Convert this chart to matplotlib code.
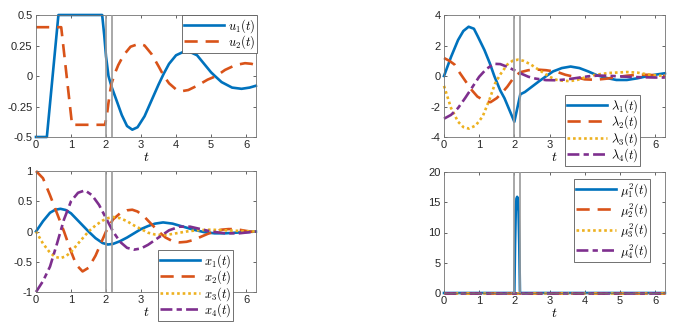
import numpy as np
import matplotlib
matplotlib.use("Agg")
import matplotlib.pyplot as plt

plt.rcParams['font.family'] = ['Liberation Sans', 'DejaVu Sans']
plt.rcParams['mathtext.fontset'] = 'cm'
plt.rcParams['axes.unicode_minus'] = False

# ---- data ----
# switching instants (grey vertical lines)
t_switch = [2.0, 2.16]

# controls u(t)
t_u1 = [0, 0.31, 0.64, 1.89, 1.95, 2.0, 2.07, 2.16, 2.3, 2.45, 2.6, 2.75, 2.9, 3.1, 3.3, 3.5,
        3.65, 3.8, 4.0, 4.3, 4.6, 4.8, 5.0, 5.11, 5.3, 5.6, 5.87, 6.1, 6.28]
u1 = [-0.5, -0.5, 0.5, 0.5, 0.33, 0.16, 0.0, -0.09, -0.2, -0.32, -0.41, -0.44, -0.42, -0.33, -0.2, -0.07,
      0.02, 0.1, 0.17, 0.21, 0.17, 0.1, 0.03, 0.0, -0.05, -0.095, -0.105, -0.095, -0.08]
t_u2 = [0, 0.72, 1.03, 1.97, 2.02, 2.07, 2.12, 2.16, 2.25, 2.35, 2.5, 2.7, 2.95, 3.1, 3.3, 3.5, 3.65,
        3.8, 4.0, 4.15, 4.35, 4.6, 4.9, 5.15, 5.4, 5.7, 5.97, 6.15, 6.28]
u2 = [0.4, 0.4, -0.4, -0.4, -0.33, -0.22, -0.12, -0.06, 0.02, 0.09, 0.17, 0.24, 0.265, 0.25, 0.18, 0.08, 0.0,
      -0.06, -0.11, -0.125, -0.115, -0.08, -0.03, 0.0, 0.05, 0.09, 0.105, 0.1, 0.09]

# states x(t)
t_x1 = [0, 0.2, 0.4, 0.55, 0.7, 0.85, 1.0, 1.2, 1.5, 1.7, 1.9, 2.05, 2.2, 2.4, 2.6, 2.8, 3.0, 3.2,
        3.4, 3.63, 3.9, 4.2, 4.5, 4.8, 5.1, 5.4, 5.7, 6.0, 6.28]
x1 = [0, 0.17, 0.31, 0.36, 0.375, 0.355, 0.3, 0.18, 0.0, -0.11, -0.19, -0.215, -0.205, -0.16, -0.1, -0.03, 0.04, 0.09,
      0.13, 0.15, 0.13, 0.08, 0.03, -0.01, -0.03, -0.03, -0.02, -0.01, 0.0]
t_x2 = [0, 0.2, 0.4, 0.6, 0.8, 1.0, 1.15, 1.33, 1.5, 1.7, 1.85, 2.0, 2.2, 2.4, 2.6, 2.75, 2.9, 3.1, 3.3,
        3.5, 3.7, 3.9, 4.1, 4.3, 4.5, 4.7, 4.9, 5.1, 5.3, 5.5, 5.7, 5.9, 6.1, 6.28]
x2 = [1.0, 0.88, 0.6, 0.3, 0.0, -0.33, -0.55, -0.66, -0.6, -0.4, -0.2, 0.0, 0.2, 0.3, 0.35, 0.36, 0.33, 0.24, 0.12,
      0.0, -0.1, -0.16, -0.18, -0.17, -0.14, -0.09, -0.04, 0.0, 0.03, 0.04, 0.04, 0.02, 0.0, -0.01]
t_x3 = [0, 0.2, 0.4, 0.55, 0.7, 0.85, 1.0, 1.2, 1.5, 1.7, 1.9, 2.05, 2.2, 2.4, 2.6, 2.8, 3.0, 3.2, 3.4,
        3.6, 3.8, 4.0, 4.3, 4.6, 5.0, 5.4, 5.8, 6.28]
x3 = [0, -0.2, -0.35, -0.42, -0.44, -0.41, -0.34, -0.2, 0.0, 0.1, 0.18, 0.22, 0.24, 0.22, 0.17, 0.1, 0.04, -0.02, -0.05,
      -0.06, -0.05, -0.03, 0.0, 0.02, 0.03, 0.02, 0.01, 0.0]
t_x4 = [0, 0.2, 0.4, 0.6, 0.8, 1.0, 1.2, 1.4, 1.6, 1.8, 2.0, 2.2, 2.4, 2.6, 2.8, 3.0, 3.2, 3.5, 3.8,
        4.1, 4.4, 4.7, 5.0, 5.4, 5.8, 6.28]
x4 = [-1.0, -0.82, -0.58, -0.2, 0.2, 0.5, 0.64, 0.68, 0.6, 0.44, 0.22, 0.0, -0.17, -0.27, -0.3, -0.28, -0.22, -0.1, 0.02,
      0.08, 0.08, 0.04, 0.0, -0.03, -0.03, 0.0]

# costates lambda(t)
t_l1 = [0, 0.2, 0.4, 0.55, 0.7, 0.85, 0.96, 1.15, 1.3, 1.43, 1.6, 1.72, 1.86, 2.0, 2.17, 2.3, 2.5, 2.7,
        2.9, 3.1, 3.35, 3.6, 3.85, 4.1, 4.35, 4.6, 4.9, 5.2, 5.5, 5.8, 6.05, 6.28]
l1 = [0, 1.25, 2.36, 2.95, 3.23, 3.1, 2.6, 1.7, 0.85, 0.0, -0.95, -1.46, -2.23, -3.0, -1.2, -1.05, -0.7, -0.35,
      -0.02, 0.3, 0.52, 0.62, 0.52, 0.3, 0.05, -0.12, -0.26, -0.26, -0.15, 0.0, 0.1, 0.18]
t_l2 = [0, 0.15, 0.3, 0.45, 0.6, 0.78, 0.95, 1.15, 1.32, 1.5, 1.65, 1.8, 2.0, 2.17, 2.4, 2.65, 2.9, 3.2,
        3.45, 3.7, 4.0, 4.3, 4.6, 4.9, 5.2, 5.5, 5.8, 6.05, 6.28]
l2 = [1.18, 1.0, 0.75, 0.2, -0.3, -0.9, -1.35, -1.62, -1.72, -1.45, -1.1, -0.7, -0.05, 0.25, 0.38, 0.42, 0.38, 0.28,
      0.08, -0.05, -0.22, -0.25, -0.18, -0.08, 0.02, 0.08, 0.08, 0.04, 0.0]
t_l3 = [0, 0.2, 0.4, 0.55, 0.71, 0.9, 1.1, 1.3, 1.45, 1.6, 1.8, 1.95, 2.1, 2.25, 2.45, 2.7, 3.0, 3.2,
        3.4, 3.6, 3.8, 4.0, 4.3, 4.7, 5.2, 5.5, 5.8, 6.05, 6.28]
l3 = [-0.65, -2.1, -3.0, -3.35, -3.45, -3.25, -2.65, -1.5, -0.5, 0.1, 0.75, 1.0, 1.07, 1.0, 0.78, 0.4, -0.05, -0.25,
      -0.32, -0.33, -0.25, -0.1, 0.08, 0.2, 0.26, 0.22, 0.1, 0.03, 0.0]
t_l4 = [0, 0.2, 0.4, 0.6, 0.8, 1.0, 1.2, 1.42, 1.6, 1.8, 2.0, 2.2, 2.4, 2.6, 2.9, 3.2, 3.5, 3.8, 4.1,
        4.4, 4.8, 5.2, 5.6, 6.0, 6.28]
l4 = [-2.8, -2.55, -2.1, -1.45, -0.75, -0.05, 0.45, 0.8, 0.78, 0.6, 0.38, 0.15, -0.05, -0.17, -0.27, -0.28, -0.22,
      -0.12, -0.02, 0.03, 0.0, -0.05, -0.08, -0.1, -0.1]

# multipliers mu^2(t)
t_m1 = [0, 2.0, 2.02, 2.04, 2.06, 2.08, 2.1, 2.12, 2.14, 2.16, 6.28]
m1 = [0, 0, 8.0, 13.5, 15.6, 15.9, 15.6, 13.5, 8.0, 0, 0]
t_m0 = [0, 6.28]
m2 = [0, 0]
m3 = [0, 0]
m4 = [0, 0]

x_ticks = [0, 1, 2, 3, 4, 5, 6]

# ---- styling ----
C = ['#0072BD', '#D95319', '#EDB120', '#7E2F8E']
LW = 1.9
STY = [dict(ls='-'), dict(ls=(0, (5, 3))), dict(ls=(0, (1, 1.1))), dict(ls=(0, (4.5, 1.6, 2, 1.6)))]

W, H = 682, 322
fig = plt.figure(figsize=(W / 100, H / 100), dpi=100)


def add_ax(x0, y0, x1, y1):
    return fig.add_axes([x0 / W, 1 - y1 / H, (x1 - x0) / W, (y1 - y0) / H])


def style(ax, ylim, yticks, ylabels):
    ax.set_xlim(0, 2 * np.pi)
    ax.set_ylim(*ylim)
    ax.set_xticks(x_ticks)
    ax.set_yticks(yticks)
    ax.set_yticklabels(ylabels)
    ax.tick_params(direction='in', length=2.5, width=0.5, top=True, right=True,
                   labelsize=8, pad=2.5, colors='0.15')
    for s in ax.spines.values():
        s.set_color('0.45')
        s.set_linewidth(0.6)
    ax.set_xlabel('$t$', fontsize=10, labelpad=0)
    for ts in t_switch:
        ax.axvline(ts, color='0.6', lw=1.2, zorder=3)


def leg(ax, x0, y0, spacing=-0.1):
    l = ax.legend(loc='upper left', bbox_to_anchor=(x0 / W, 1 - y0 / H), bbox_transform=fig.transFigure,
                  fontsize=9, handlelength=3.2, handletextpad=0.3, borderpad=0.15, labelspacing=spacing,
                  borderaxespad=0, fancybox=False, framealpha=1)
    l.get_frame().set_edgecolor('0.35')
    l.get_frame().set_linewidth(0.6)
    return l


# top left: u
ax = add_ax(36, 15, 256, 137)
for i, (tt, yy) in enumerate([(t_u1, u1), (t_u2, u2)]):
    ax.plot(tt, yy, color=C[i], lw=LW, label=f'$u_{i + 1}(t)$', clip_on=False, **STY[i])
style(ax, (-0.5, 0.5), [-0.5, -0.25, 0, 0.25, 0.5], ['-0.5', '-0.25', '0', '0.25', '0.5'])
leg(ax, 182, 15)

# bottom left: x
ax = add_ax(36, 171, 256, 292)
for i, (tt, yy) in enumerate([(t_x1, x1), (t_x2, x2), (t_x3, x3), (t_x4, x4)]):
    ax.plot(tt, yy, color=C[i], lw=LW, label=f'$x_{i + 1}(t)$', clip_on=False, **STY[i])
style(ax, (-1, 1), [-1, -0.5, 0, 0.5, 1], ['-1', '-0.5', '0', '0.5', '1'])
leg(ax, 158, 250)

# top right: lambda
ax = add_ax(444, 15, 665, 137)
for i, (tt, yy) in enumerate([(t_l1, l1), (t_l2, l2), (t_l3, l3), (t_l4, l4)]):
    ax.plot(tt, yy, color=C[i], lw=LW, label=f'$\\lambda_{i + 1}(t)$', clip_on=False, **STY[i])
style(ax, (-4, 4), [-4, -2, 0, 2, 4], ['-4', '-2', '0', '2', '4'])
leg(ax, 565, 95)

# bottom right: mu^2
ax = add_ax(444, 172, 665, 293)
for i, (tt, yy) in enumerate([(t_m1, m1), (t_m0, m2), (t_m0, m3), (t_m0, m4)]):
    ax.plot(tt, yy, color=C[i], lw=LW, label=f'$\\mu_{i + 1}^2(t)$', clip_on=False, **STY[i])
style(ax, (0, 20), [0, 5, 10, 15, 20], ['0', '5', '10', '15', '20'])
leg(ax, 574, 179, spacing=0.2)

fig.savefig('out.png', dpi=100)
